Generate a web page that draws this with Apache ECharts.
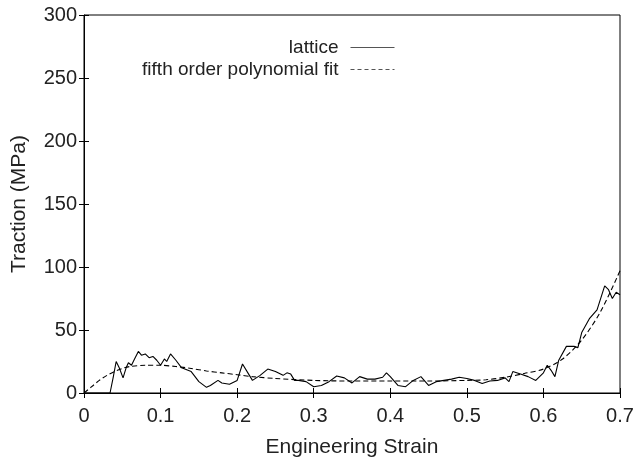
<!DOCTYPE html>
<html>
<head>
<meta charset="utf-8">
<script src="https://cdn.jsdelivr.net/npm/echarts@6/dist/echarts.min.js"></script>
<style>
  html, body { margin: 0; padding: 0; background: #fff; }
  #chart { width: 638px; height: 462px; }
</style>
</head>
<body>
<div id="chart"></div>
<script>
// lattice curve (strain, traction MPa)
var latticeStrain = [0, 0.034, 0.038, 0.042, 0.046, 0.051, 0.055, 0.058, 0.062, 0.066, 0.071, 0.075, 0.08, 0.085, 0.09, 0.095,
    0.1, 0.105, 0.108, 0.113, 0.12, 0.1275, 0.14, 0.15, 0.16, 0.165, 0.175, 0.18, 0.19, 0.2, 0.207, 0.215, 0.22, 0.23, 0.24,
    0.25, 0.26, 0.265, 0.27, 0.275, 0.28, 0.29, 0.3, 0.31, 0.32, 0.33, 0.34, 0.35, 0.36, 0.37, 0.38, 0.39, 0.395, 0.4, 0.41,
    0.42, 0.43, 0.44, 0.45, 0.46, 0.47, 0.48, 0.49, 0.5, 0.51, 0.52, 0.53, 0.54, 0.55, 0.555, 0.56, 0.57, 0.58, 0.59, 0.6,
    0.605, 0.61, 0.615, 0.62, 0.63, 0.64, 0.645, 0.65, 0.66, 0.67, 0.68, 0.685, 0.69, 0.695, 0.7];
var latticeTraction = [0, 0, 12, 25, 20, 12, 20, 24, 22, 27, 33, 30, 31, 28, 29, 26,
    22, 27, 25, 31, 26, 20, 17, 9, 4.5, 6, 10, 8, 7, 10, 23, 15, 10, 14, 19,
    17, 14, 16, 15, 10, 10, 9, 5, 6, 9, 13.5, 12, 8, 13, 11, 11, 12.5, 16, 13, 6,
    5, 10, 13, 6, 9, 10, 11, 12.5, 11.5, 10, 7.5, 9.5, 10, 12, 9, 17, 15, 13, 10, 16,
    22, 18, 13, 26, 37, 37, 36, 48, 59, 66, 85, 82, 75, 80, 78];

// fifth order polynomial fit
var fitStrain = [0, 0.01, 0.02, 0.03, 0.04, 0.05, 0.06, 0.08, 0.1, 0.12, 0.14, 0.16, 0.18, 0.2, 0.22, 0.25, 0.3, 0.35,
    0.4, 0.45, 0.5, 0.525, 0.55, 0.575, 0.6, 0.625, 0.65, 0.675, 0.7];
var fitTraction = [0, 5, 10, 14, 17, 19.5, 21, 22, 22, 21, 19.5, 17.5, 16, 14.5, 13, 11.5, 10, 9.5,
    9.5, 9.5, 10, 10.5, 12.5, 15.5, 19, 27, 42, 65, 97];

function pairs(xs, ys) {
    return xs.map(function (x, i) { return [x, ys[i]]; });
}

var myChart = echarts.init(document.getElementById('chart'));
var font = 'Liberation Sans';
var hiddenAxis = {
    axisLine: { show: false },
    axisLabel: { show: false },
    axisTick: { inside: true, length: 5, lineStyle: { color: '#000' } },
    splitLine: { show: false }
};
function legendAt(top, name, dash) {
    return {
        right: 238, top: top, align: 'right', itemWidth: 44, itemHeight: 10,
        itemStyle: { opacity: 0 },
        lineStyle: { color: '#555', width: 1, type: dash },
        textStyle: { fontFamily: font, fontSize: 19, color: '#222', padding: [0, 7, 0, 0] },
        data: [name]
    };
}

var option = {
    animation: false,
    grid: {
        left: 84, right: 18, top: 15, bottom: 69,
        outerBoundsMode: 'none',
        show: true, borderColor: '#000', borderWidth: 1, backgroundColor: 'transparent'
    },
    legend: [
        legendAt(33, 'lattice', 'solid'),
        legendAt(55, 'fifth order polynomial fit', [4, 3])
    ],
    xAxis: [
        {
            type: 'value', min: 0, max: 0.7, interval: 0.1,
            name: 'Engineering Strain', nameLocation: 'middle', nameGap: 44,
            nameTextStyle: { fontFamily: font, fontSize: 21, color: '#222' },
            axisLine: { lineStyle: { color: '#000' } },
            axisTick: { inside: true, length: 5, lineStyle: { color: '#000' } },
            axisLabel: { fontFamily: font, fontSize: 20, color: '#222', margin: 13,
                formatter: function (v) { return v === 0 ? '0' : v.toFixed(1); } },
            splitLine: { show: false }
        },
        Object.assign({ type: 'value', position: 'top', min: 0, max: 0.7, interval: 0.1 }, hiddenAxis)
    ],
    yAxis: [
        {
            type: 'value', min: 0, max: 300, interval: 50,
            name: 'Traction (MPa)', nameLocation: 'middle', nameGap: 54,
            nameTextStyle: { fontFamily: font, fontSize: 21, color: '#222' },
            axisLine: { show: true, lineStyle: { color: '#000' } },
            axisTick: { show: true, inside: true, length: 5, lineStyle: { color: '#000' } },
            axisLabel: { fontFamily: font, fontSize: 20, color: '#222', margin: 7 },
            splitLine: { show: false }
        },
        Object.assign({ type: 'value', position: 'right', min: 0, max: 300, interval: 50 }, hiddenAxis)
    ],
    series: [
        {
            name: 'lattice', type: 'line', symbol: 'none',
            lineStyle: { color: '#000', width: 1.1 },
            itemStyle: { color: '#000' },
            data: pairs(latticeStrain, latticeTraction)
        },
        {
            name: 'fifth order polynomial fit', type: 'line', symbol: 'none', smooth: 0.3,
            lineStyle: { color: '#000', width: 1.1, type: [5, 3] },
            itemStyle: { color: '#000' },
            data: pairs(fitStrain, fitTraction)
        }
    ]
};

myChart.setOption(option);
window.addEventListener('resize', function () { myChart.resize(); });
</script>
</body>
</html>
